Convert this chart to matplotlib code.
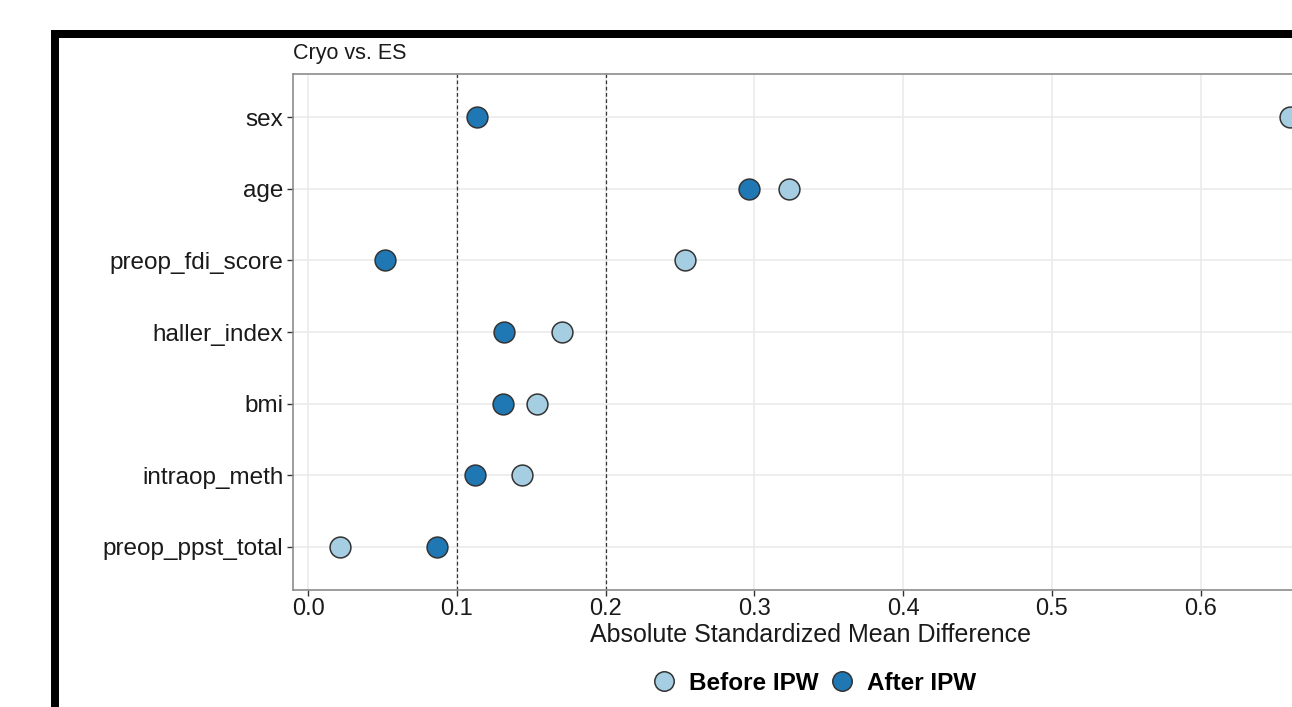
import matplotlib.pyplot as plt
from matplotlib.lines import Line2D
from matplotlib.patches import Rectangle

plt.rcParams['font.family'] = ['Liberation Sans', 'DejaVu Sans']

covariates = ['sex', 'age', 'preop_fdi_score', 'haller_index', 'bmi',
              'intraop_meth', 'preop_ppst_total']
smd_before = [0.660, 0.3235, 0.2534, 0.1707, 0.1539, 0.1438, 0.0215]
smd_after = [0.1138, 0.2966, 0.0517, 0.1317, 0.1310, 0.1122, 0.0865]
thresholds = [0.1, 0.2]
xticks = [0.0, 0.1, 0.2, 0.3, 0.4, 0.5, 0.6]

col_before = '#A6CEE3'
col_after = '#1F78B4'

W, H = 1292, 707
fig = plt.figure(figsize=(W / 100, H / 100), dpi=100)
ax = fig.add_axes([293 / W, 117 / H, 1034 / W, 516 / H])

ypos = list(range(len(covariates), 0, -1))

for x in thresholds:
    ax.axvline(x, color='#333333', lw=0.9, ls=(0, (3, 2)), zorder=2)

ax.scatter(smd_before, ypos, s=225, color=col_before, edgecolor='#333333',
           linewidth=1.1, zorder=3)
ax.scatter(smd_after, ypos, s=225, color=col_after, edgecolor='#333333',
           linewidth=1.1, zorder=3)

ax.set_xlim(-0.0101, 0.685)
ax.set_ylim(0.4, len(covariates) + 0.6)
ax.set_xticks(xticks)
ax.set_xticklabels([f'{v:.1f}' for v in xticks])
ax.set_yticks(ypos)
ax.set_yticklabels(covariates)
ax.grid(True, color='#EBEBEB', lw=1.2)
ax.set_axisbelow(True)
for s in ax.spines.values():
    s.set_color('#8C8C8C')
    s.set_linewidth(1.2)
ax.tick_params(length=4, width=1, color='#333333', labelcolor='#1A1A1A')
ax.tick_params(axis='y', labelsize=17.5, pad=3)
ax.tick_params(axis='x', labelsize=17, pad=2)
ax.set_xlabel('Absolute Standardized Mean Difference', fontsize=18,
              color='#1A1A1A', labelpad=2)

fig.text(293 / W, 1 - 59 / H, 'Cryo vs. ES', fontsize=15.5, color='#1A1A1A',
         va='baseline', ha='left')

handles = [
    Line2D([], [], ls='', marker='o', ms=14, mfc=col_before, mec='#333333',
           mew=1.1, label='Before IPW'),
    Line2D([], [], ls='', marker='o', ms=14, mfc=col_after, mec='#333333',
           mew=1.1, label='After IPW'),
]
fig.legend(handles=handles, loc='center', bbox_to_anchor=(814 / W, 1 - 683 / H),
           ncol=2, frameon=False, prop={'weight': 'bold', 'size': 17.5},
           handletextpad=0.55, columnspacing=0.45, handlelength=1.0)

# black frame around the panel
fig.add_artist(Rectangle((54.5 / W, -0.2), 2, (H - 34) / H + 0.2,
                         transform=fig.transFigure, fill=False,
                         edgecolor='black', lw=8 * 0.72, clip_on=False))

fig.savefig('out.png', dpi=100)
